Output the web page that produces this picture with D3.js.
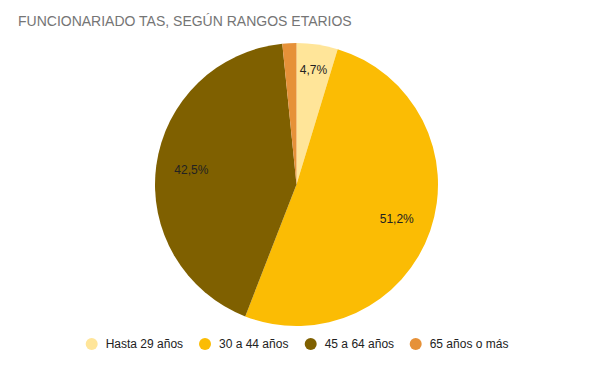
<!DOCTYPE html>
<html><head><meta charset="utf-8">
<script src="https://cdn.jsdelivr.net/npm/d3@7"></script>
<style>body{margin:0;background:#fff;}svg{display:block;font-family:Arial,"Liberation Sans",sans-serif;}</style>
</head><body>
<svg id="c" width="592" height="365"></svg>
<script>
const title = "FUNCIONARIADO TAS, SEGÚN RANGOS ETARIOS";
const categories = ["Hasta 29 años", "30 a 44 años", "45 a 64 años", "65 años o más"];
const values = [4.7, 51.2, 42.5, 1.6];
const colors = ["#ffe599", "#fbbc04", "#7f6000", "#e69138"];

const svg = d3.select("#c");
svg.append("text").attr("x", 18).attr("y", 26).attr("fill", "#757575")
  .attr("font-size", 14).text(title);

const cx = 296.5, cy = 184.5, R = 141.5;
const g = svg.append("g").attr("transform", `translate(${cx},${cy})`);
const pie = d3.pie().sort(null).value(d => d.v);
const arcs = pie(categories.map((c, i) => ({c, v: values[i], col: colors[i]})));
const arc = d3.arc().innerRadius(0).outerRadius(R);
g.selectAll("path").data(arcs).enter().append("path")
  .attr("d", arc).attr("fill", d => d.data.col).attr("stroke", "none");

const fmt = v => v.toFixed(1).replace(".", ",") + "%";
arcs.forEach(d => {
  if (d.data.v < 3) return;
  const label = fmt(d.data.v);
  const mid = (d.startAngle + d.endAngle) / 2;
  const half = (d.endAngle - d.startAngle) / 2;
  const tw = label.length * 7;
  let r = 0.75 * R;
  if (half < Math.PI / 2) r = Math.max(r, (tw + 6) / (2 * Math.sin(half)));
  g.append("text").attr("x", r * Math.sin(mid)).attr("y", -r * Math.cos(mid))
    .attr("text-anchor", "middle").attr("dominant-baseline", "central")
    .attr("font-size", 12).attr("fill", "#222")
    .text(label);
});

// legend
const lg = svg.append("g");
const itemX = [91.7, 205, 310.7, 415.7];
categories.forEach((c, i) => {
  lg.append("circle").attr("cx", itemX[i]).attr("cy", 344).attr("r", 6).attr("fill", colors[i]);
  lg.append("text").attr("x", itemX[i] + 14).attr("y", 344).attr("dominant-baseline", "central")
    .attr("font-size", 12).attr("fill", "#222").text(c);
});
</script>
</body></html>
